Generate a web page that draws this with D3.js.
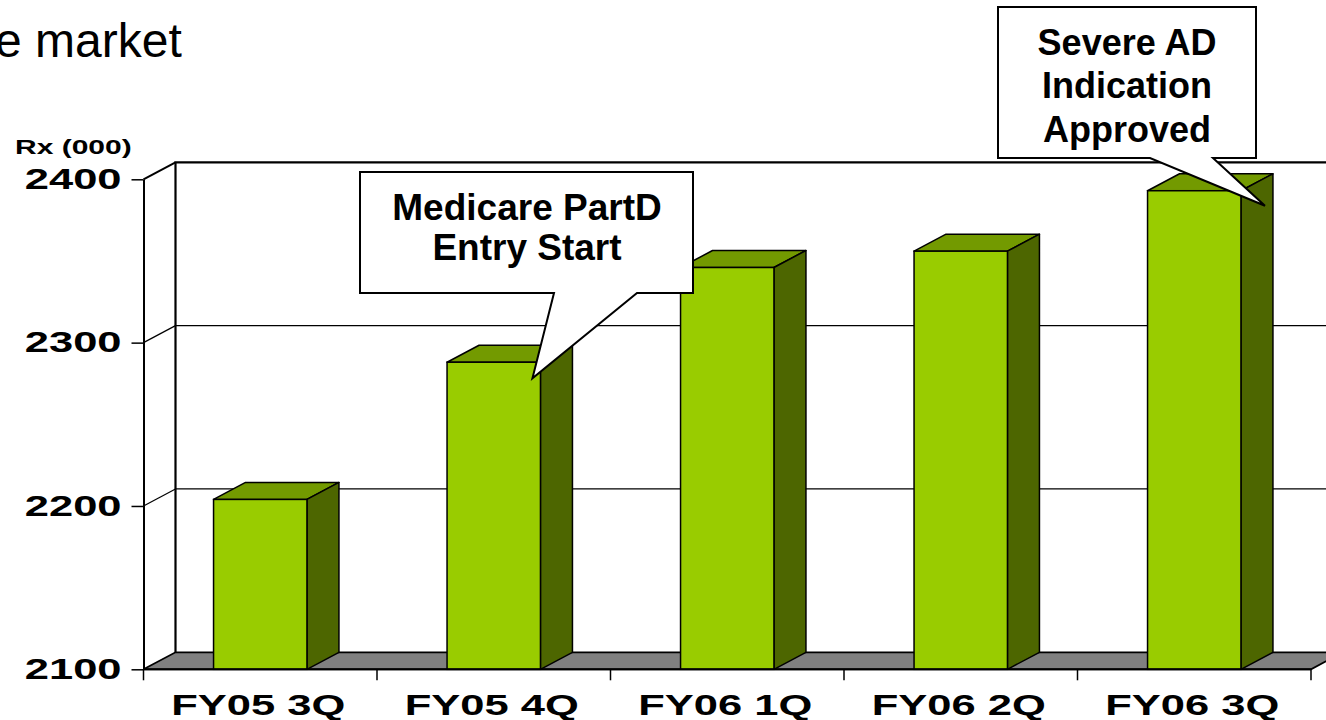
<!DOCTYPE html>
<html>
<head>
<meta charset="utf-8">
<script src="https://cdn.jsdelivr.net/npm/d3@7"></script>
<style>
  body { margin: 0; background: #fff; overflow: hidden; }
  text { font-family: "Liberation Sans", Arial, sans-serif; }
</style>
</head>
<body>
<script>
// data
var categories = ["FY05 3Q", "FY05 4Q", "FY06 1Q", "FY06 2Q", "FY06 3Q"];
var rxValues = [2204, 2288, 2346, 2356, 2393];
var yTicks = [2100, 2200, 2300, 2400];
var yLabel = "Rx (000)";
var titleLine = "e market";
var callout1 = ["Medicare PartD", "Entry Start"];
var callout2 = ["Severe AD", "Indication", "Approved"];

var svgWidth = 1326;
var svgHeight = 720;

// 3d depth offset of the chart box
var dx = 32, dy = -17;
var stretch = 1.5; // chart text is wider than it is tall

var svg = d3.select("body")
  .append("svg")
  .attr("width", svgWidth)
  .attr("height", svgHeight);

// scales
var x = d3.scaleBand()
  .domain(categories)
  .range([143.5, 1311])
  .paddingInner(0.6)
  .paddingOuter(0.3);

var y = d3.scaleLinear()
  .domain([2100, 2400])
  .range([669.3, 179.3]);

var x0 = x.range()[0], x1 = x.range()[1];
var yBase = y(2100), yTop = y(2400);

// title fragment
svg.append("text")
  .attr("x", -5)
  .attr("y", 57)
  .style("font-size", "48px")
  .text(titleLine);

// back wall
var chart = svg.append("g");

chart.append("rect")
  .attr("x", x0 + dx)
  .attr("y", yTop + dy)
  .attr("width", x1 - x0 + 40)
  .attr("height", yBase - yTop)
  .attr("fill", "#fff");

// gridlines on back wall
chart.selectAll(".grid")
  .data(yTicks.filter(d => d > 2100 && d < 2400))
  .enter()
  .append("line")
  .attr("class", "grid")
  .attr("x1", x0 + dx)
  .attr("x2", x1 + dx + 10)
  .attr("y1", d => y(d) + dy)
  .attr("y2", d => y(d) + dy)
  .attr("stroke", "#000")
  .attr("stroke-width", 1.2);

// side wall diagonals
chart.selectAll(".diag")
  .data(yTicks.filter(d => d > 2100))
  .enter()
  .append("line")
  .attr("x1", x0)
  .attr("x2", x0 + dx)
  .attr("y1", d => y(d))
  .attr("y2", d => y(d) + dy)
  .attr("stroke", "#000")
  .attr("stroke-width", d => d == 2400 ? 2 : 1.2);

// back wall top and left edges
chart.append("path")
  .attr("d", `M${x0 + dx},${yBase + dy}V${yTop + dy}H${x1 + dx + 10}`)
  .attr("fill", "none")
  .attr("stroke", "#000")
  .attr("stroke-width", 2.2);

// floor
chart.append("path")
  .attr("d", `M${x0},${yBase}L${x1},${yBase}L${x1 + dx},${yBase + dy}L${x0 + dx},${yBase + dy}Z`)
  .attr("fill", "#808080")
  .attr("stroke", "#000")
  .attr("stroke-width", 1.8);

// bars
var bw = x.bandwidth();
var bars = chart.selectAll(".bar")
  .data(categories.map((c, i) => ({ cat: c, value: rxValues[i] })))
  .enter()
  .append("g")
  .attr("class", "bar");

bars.append("path")
  .attr("d", function(d) {
    var l = x(d.cat), r = l + bw, t = y(d.value);
    return `M${l},${t}L${l + dx},${t + dy}L${r + dx},${t + dy}L${r},${t}Z`;
  })
  .attr("fill", "#739a00")
  .attr("stroke", "#000")
  .attr("stroke-width", 1.5)
  .attr("stroke-linejoin", "round");

bars.append("path")
  .attr("d", function(d) {
    var r = x(d.cat) + bw, t = y(d.value);
    return `M${r},${t}L${r + dx},${t + dy}L${r + dx},${yBase + dy}L${r},${yBase}Z`;
  })
  .attr("fill", "#4d6600")
  .attr("stroke", "#000")
  .attr("stroke-width", 1.5)
  .attr("stroke-linejoin", "round");

bars.append("rect")
  .attr("x", d => x(d.cat))
  .attr("y", d => y(d.value))
  .attr("width", bw)
  .attr("height", d => yBase - y(d.value))
  .attr("fill", "#99cc00")
  .attr("stroke", "#000")
  .attr("stroke-width", 1.5);

// y axis
var leftAxis = d3.axisLeft(y)
  .tickValues(yTicks)
  .tickSize(12)
  .tickSizeOuter(0)
  .tickFormat(d3.format("d"));

var yAxisG = svg.append("g")
  .attr("transform", `translate(${x0}, 0)`)
  .call(leftAxis);

yAxisG.select(".domain").attr("stroke", "#000").attr("stroke-width", 2);
yAxisG.selectAll(".tick line").attr("stroke", "#000").attr("stroke-width", 1.5);
yAxisG.selectAll(".tick text")
  .attr("x", -22 / stretch)
  .attr("transform", `scale(${stretch},1)`)
  .attr("fill", "#000")
  .style("font-size", "29px")
  .style("font-weight", "bold")
  .style("font-family", "'Liberation Sans', Arial, sans-serif");

// front floor edge and category ticks
svg.append("line")
  .attr("x1", x0).attr("x2", x1)
  .attr("y1", yBase).attr("y2", yBase)
  .attr("stroke", "#000")
  .attr("stroke-width", 2);

svg.selectAll(".ctick")
  .data(d3.range(categories.length + 1))
  .enter()
  .append("line")
  .attr("x1", i => x0 + i * x.step())
  .attr("x2", i => x0 + i * x.step())
  .attr("y1", yBase)
  .attr("y2", yBase + 11)
  .attr("stroke", "#000")
  .attr("stroke-width", 1.5);

var bottomAxis = d3.axisBottom(x)
  .tickSize(0)
  .tickPadding(25);

var xAxisG = svg.append("g")
  .attr("transform", `translate(-2, ${yBase})`)
  .call(bottomAxis);

xAxisG.select(".domain").remove();
xAxisG.selectAll(".tick text")
  .attr("transform", `scale(${stretch},1)`)
  .attr("fill", "#000")
  .style("font-size", "29px")
  .style("font-weight", "bold")
  .style("font-family", "'Liberation Sans', Arial, sans-serif");

// y axis title
svg.append("text")
  .attr("transform", `translate(15, 154) scale(1.54,1)`)
  .style("font-size", "19.5px")
  .style("font-weight", "bold")
  .text(yLabel);

// callouts
function callout(box, base, tip, lines, cx, baselines, size) {
  var g = svg.append("g");
  g.append("path")
    .attr("d", `M${box[0]},${box[1]}H${box[2]}V${box[3]}H${base[1]}L${tip[0]},${tip[1]}L${base[0]},${box[3]}H${box[0]}Z`)
    .attr("fill", "#fff")
    .attr("stroke", "#000")
    .attr("stroke-width", 2)
    .attr("stroke-linejoin", "miter");
  g.selectAll("text")
    .data(lines)
    .enter()
    .append("text")
    .attr("x", cx)
    .attr("y", (d, i) => baselines[i])
    .attr("text-anchor", "middle")
    .style("font-size", size + "px")
    .style("font-weight", "bold")
    .text(d => d);
}

var b2 = x(categories[1]);
callout([360, 172, 693, 293], [554, 637],
  [b2 + bw - 8, y(rxValues[1]) + 16],
  callout1, 527, [220, 260], 37);

var b5 = x(categories[4]);
callout([998, 7, 1256, 158], [1150, 1213],
  [b5 + bw + 24, y(rxValues[4]) + 15],
  callout2, 1127, [55, 98, 142], 36);
</script>
</body>
</html>
